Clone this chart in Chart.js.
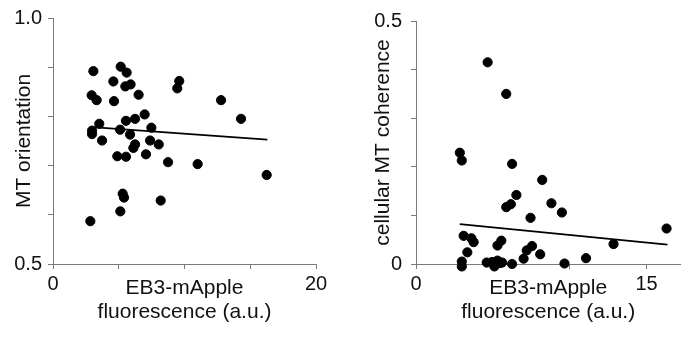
<!DOCTYPE html>
<html>
<head>
<meta charset="utf-8">
<script src="https://cdn.jsdelivr.net/npm/chart.js@4"></script>
<style>
  body { margin: 0; background: #fff; }
  .wrap { position: absolute; top: 0; width: 343px; height: 338px; }
</style>
</head>
<body>
<div class="wrap" style="left:0"><canvas id="leftChart" width="343" height="338"></canvas></div>
<div class="wrap" style="left:343px"><canvas id="rightChart" width="343" height="338"></canvas></div>
<script>
// left panel: MT orientation vs EB3-mApple fluorescence
var leftX = [3.07, 5.15, 5.60, 4.59, 5.50, 5.90, 9.60, 9.45, 2.94, 3.32, 4.64, 6.51, 12.78, 6.97, 14.30, 6.24,
             5.55, 3.52, 5.10, 7.48, 2.97, 2.97, 5.86, 3.73, 7.38, 8.04, 6.24, 6.11, 7.07, 4.89, 5.55, 8.75,
             11.00, 16.25, 5.30, 5.40, 8.19, 5.12, 2.84];
var leftY = [0.892, 0.901, 0.889, 0.871, 0.861, 0.865, 0.872, 0.857, 0.843, 0.833, 0.831, 0.844, 0.833, 0.804, 0.795, 0.795,
             0.791, 0.785, 0.773, 0.777, 0.771, 0.764, 0.763, 0.751, 0.751, 0.743, 0.743, 0.736, 0.723, 0.719, 0.718, 0.707,
             0.703, 0.681, 0.643, 0.635, 0.629, 0.607, 0.587];
var leftFitX = [3.0, 16.3];
var leftFitY = [0.778, 0.753];
var leftXTicks = [0, 5, 10, 15, 20];
var leftXLabels = ['0', '', '', '', '20'];
var leftYTicks = [0.5, 0.6, 0.7, 0.8, 0.9, 1.0];
var leftYLabels = ['0.5', '', '', '', '', '1.0'];

// right panel: cellular MT coherence vs EB3-mApple fluorescence
var rightX = [4.66, 5.87, 2.85, 2.98, 6.25, 8.21, 6.53, 5.87, 6.17, 8.81, 9.49, 7.45, 16.30, 3.10, 3.60, 3.75,
              3.34, 5.55, 5.30, 7.55, 7.20, 7.00, 8.08, 12.85, 11.06, 9.66, 2.98, 2.98, 4.60, 4.95, 5.10, 5.30,
              5.45, 5.60, 6.25, 14.38];
var rightY = [0.415, 0.350, 0.229, 0.213, 0.206, 0.173, 0.142, 0.117, 0.123, 0.125, 0.106, 0.095, 0.073, 0.058, 0.053, 0.045,
              0.024, 0.048, 0.038, 0.037, 0.028, 0.011, 0.020, 0.041, 0.012, 0.001, 0.005, -0.005, 0.003, 0.004, -0.005, 0.007,
              0.002, 0.003, 0.000, -0.017];
var rightFitX = [2.85, 16.36];
var rightFitY = [0.082, 0.040];
var rightXTicks = [0, 5, 10, 15];
var rightXLabels = ['0', '', '', '15'];
var rightYTicks = [0, 0.1, 0.2, 0.3, 0.4, 0.5];
var rightYLabels = ['0', '', '', '', '', '0.5'];

var axisGray = '#7a7a7a';
var fontFamily = "'Liberation Sans', Arial, sans-serif";

function pts(xs, ys) {
    return xs.map(function (x, i) { return { x: x, y: ys[i] }; });
}

function makeChart(id, cfg) {
    var ctx = document.getElementById(id).getContext('2d');
    return new Chart(ctx, {
        type: 'scatter',
        data: {
            datasets: [
                {
                    data: pts(cfg.xs, cfg.ys),
                    backgroundColor: '#000',
                    borderColor: '#000',
                    pointRadius: 4.6,
                    pointHoverRadius: 4.6,
                    clip: false
                },
                {
                    data: pts(cfg.fitX, cfg.fitY),
                    showLine: true,
                    borderColor: '#000',
                    borderWidth: 1.8,
                    pointRadius: 0
                }
            ]
        },
        options: {
            responsive: false,
            animation: false,
            layout: { padding: cfg.padding },
            plugins: { legend: { display: false }, tooltip: { enabled: false } },
            scales: {
                x: {
                    type: 'linear',
                    min: cfg.xMin, max: cfg.xMax,
                    afterBuildTicks: function (s) { s.ticks = cfg.xTicks.map(function (v) { return { value: v }; }); },
                    afterFit: function (s) { s.height = 74; },
                    grid: { drawOnChartArea: false, drawTicks: true, tickLength: 5, color: axisGray },
                    border: { display: true, color: axisGray, width: 1 },
                    ticks: {
                        autoSkip: false, maxRotation: 0, padding: 3, color: '#111',
                        font: { family: fontFamily, size: 20 },
                        callback: function (v, i) { return cfg.xLabels[i]; }
                    },
                    title: {
                        display: true,
                        text: ['EB3-mApple', 'fluorescence (a.u.)'],
                        color: '#111',
                        font: { family: fontFamily, size: 21, lineHeight: 1.15 },
                        padding: { top: 0, bottom: 14 }
                    }
                },
                y: {
                    type: 'linear',
                    min: cfg.yMin, max: cfg.yMax,
                    afterBuildTicks: function (s) { s.ticks = cfg.yTicks.map(function (v) { return { value: v }; }); },
                    afterFit: function (s) { s.width = cfg.yWidth; },
                    grid: { drawOnChartArea: false, drawTicks: true, tickLength: 5, color: axisGray },
                    border: { display: true, color: axisGray, width: 1 },
                    ticks: {
                        autoSkip: false, padding: cfg.yTickPad, color: '#111',
                        font: { family: fontFamily, size: 20 },
                        callback: function (v, i) { return cfg.yLabels[i]; }
                    },
                    title: {
                        display: true,
                        text: cfg.yTitle,
                        color: '#111',
                        font: { family: fontFamily, size: 21 },
                        padding: { top: cfg.yTitlePad, bottom: 0 }
                    }
                }
            }
        }
    });
}

makeChart('leftChart', {
    xs: leftX, ys: leftY, fitX: leftFitX, fitY: leftFitY,
    xMin: 0, xMax: 20, yMin: 0.5, yMax: 1.0,
    xTicks: leftXTicks, xLabels: leftXLabels, yTicks: leftYTicks, yLabels: leftYLabels,
    yTitle: 'MT orientation', yWidth: 53, yTickPad: 6, yTitlePad: 12,
    padding: { top: 14, right: 27, bottom: 0, left: 0 }
});

makeChart('rightChart', {
    xs: rightX, ys: rightY, fitX: rightFitX, fitY: rightFitY,
    xMin: 0, xMax: 17.2, yMin: 0, yMax: 0.5,
    xTicks: rightXTicks, xLabels: rightXLabels, yTicks: rightYTicks, yLabels: rightYLabels,
    yTitle: 'cellular MT coherence', yWidth: 73, yTickPad: 9, yTitlePad: 28,
    padding: { top: 16, right: 0, bottom: 0, left: 0 }
});
</script>
</body>
</html>
